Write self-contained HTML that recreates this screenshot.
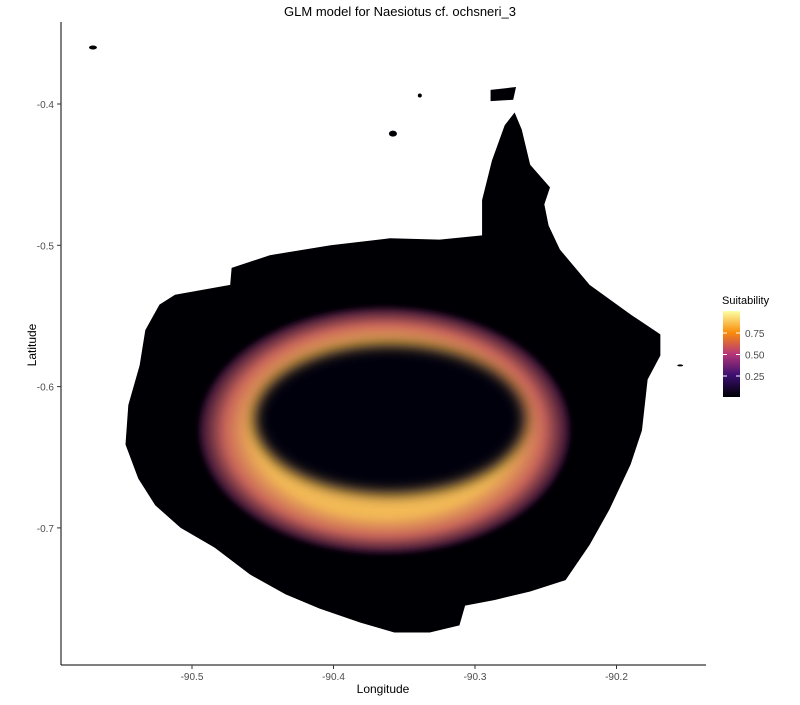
<!DOCTYPE html>
<html><head><meta charset="utf-8"><style>
body{margin:0;background:#fff;font-family:"Liberation Sans",sans-serif}
svg text{font-family:"Liberation Sans",sans-serif}
</style></head><body>
<svg id="chart" width="800" height="700" xmlns="http://www.w3.org/2000/svg">
<defs>
<radialGradient id="ringg" cx="0.5" cy="0.5" r="0.5">
<stop offset="0" stop-color="#f5c060"/><stop offset="0.7" stop-color="#f2b856"/>
<stop offset="0.86" stop-color="#c8645a"/><stop offset="1" stop-color="#2a0a30"/>
</radialGradient>
<linearGradient id="legg" x1="0" y1="1" x2="0" y2="0">
<stop offset="0" stop-color="#000004"/><stop offset="0.25" stop-color="#3b0f70"/>
<stop offset="0.5" stop-color="#b5367a"/><stop offset="0.75" stop-color="#f98c0a"/>
<stop offset="1" stop-color="#fcffa4"/></linearGradient>
<filter id="blur"><feGaussianBlur stdDeviation="7"/></filter>
<filter id="blur2"><feGaussianBlur stdDeviation="3"/></filter>
</defs>
<text x="400" y="16" text-anchor="middle" font-size="13" fill="#000">GLM model for Naesiotus cf. ochsneri_3</text>
<g id="plot"></g>
<line x1="61" y1="22" x2="61" y2="665" stroke="#000" stroke-width="1"/>
<line x1="61" y1="665" x2="706" y2="665" stroke="#000" stroke-width="1"/>
<g id="xt"></g><g id="yt"></g>
<text x="383" y="693" text-anchor="middle" font-size="12">Longitude</text>
<text transform="translate(36,345) rotate(-90)" text-anchor="middle" font-size="12">Latitude</text>
<g>
<text x="722" y="304" font-size="11">Suitability</text>
<rect x="723" y="311" width="17" height="86" fill="url(#legg)"/>
<g id="legt"></g>
</g>
</svg>
<script>
const NS="http://www.w3.org/2000/svg";
const xTicks=[-90.5,-90.4,-90.3,-90.2];
const xTickLabels=["-90.5","-90.4","-90.3","-90.2"];
const yTicks=[-0.4,-0.5,-0.6,-0.7];
const yTickLabels=["-0.4","-0.5","-0.6","-0.7"];
const legendValues=[0.25,0.5,0.75];
const legendLabels=["0.25","0.50","0.75"];
const islandLon=[-90.512,-90.473,-90.472,-90.445,-90.402,-90.360,-90.325,-90.295,-90.295,-90.288,-90.279,-90.272,-90.267,-90.261,-90.247,-90.251,-90.248,-90.240,-90.219,-90.190,-90.169,-90.169,-90.178,-90.182,-90.190,-90.205,-90.219,-90.236,-90.261,-90.286,-90.307,-90.311,-90.332,-90.357,-90.381,-90.410,-90.434,-90.459,-90.484,-90.508,-90.526,-90.538,-90.547,-90.545,-90.537,-90.533,-90.523];
const islandLat=[-0.535,-0.528,-0.516,-0.507,-0.500,-0.495,-0.496,-0.493,-0.468,-0.440,-0.415,-0.406,-0.418,-0.443,-0.459,-0.471,-0.486,-0.503,-0.528,-0.549,-0.563,-0.578,-0.595,-0.631,-0.655,-0.687,-0.712,-0.737,-0.745,-0.751,-0.755,-0.769,-0.774,-0.774,-0.767,-0.757,-0.747,-0.733,-0.714,-0.700,-0.684,-0.665,-0.641,-0.613,-0.585,-0.560,-0.542];
const isletLon=[-90.289,-90.271,-90.273,-90.289];
const isletLat=[-0.390,-0.388,-0.397,-0.398];
const ringCenter=[-90.364,-0.631], ringRadii=[0.131,0.087];
const coreCenter=[-90.360,-0.623], coreRadii=[0.096,0.053];
const X=v=>192+(v+90.5)*1415, Y=v=>104-(v+0.4)*1413;
const LegY=v=>397.5-v*86;
const plot=document.getElementById('plot');
function mk(tag,attrs,parent){const e=document.createElementNS(NS,tag);for(const k in attrs)e.setAttribute(k,attrs[k]);parent.appendChild(e);return e;}
let p=mk('polygon',{points:islandLon.map((l,i)=>X(l)+','+Y(islandLat[i])).join(' '),fill:'#000004'},plot);


let q=mk('polygon',{points:isletLon.map((l,i)=>X(l)+','+Y(isletLat[i])).join(' '),fill:'#000004'},plot);


[[-90.57,-0.36,4,2],[-90.358,-0.421,4,3],[-90.339,-0.394,2,2],[-90.155,-0.585,3,1]].forEach(d=>{
 let r=mk('ellipse',{cx:X(d[0]),cy:Y(d[1]),rx:d[2],ry:d[3],fill:'#000004'},plot);
 
 
});
let ring=mk('ellipse',{cx:X(ringCenter[0]),cy:Y(ringCenter[1]),rx:ringRadii[0]*1415,ry:ringRadii[1]*1413,fill:'url(#ringg)',filter:'url(#blur2)'},plot);


let core=mk('ellipse',{cx:X(coreCenter[0]),cy:Y(coreCenter[1]),rx:coreRadii[0]*1415,ry:coreRadii[1]*1413,fill:'#05020a',filter:'url(#blur)'},plot);


const xt=document.getElementById('xt');
xTicks.forEach((v,i)=>{
 let l=mk('line',{x1:X(v),x2:X(v),y1:665,y2:669,stroke:'#333'},xt);
 
 
 let t=mk('text',{x:X(v),y:680,'text-anchor':'middle','font-size':'10',fill:'#4d4d4d'},xt);t.textContent=xTickLabels[i];
 
 
});
const yt=document.getElementById('yt');
yTicks.forEach((v,i)=>{
 let l=mk('line',{x1:57,x2:61,y1:Y(v),y2:Y(v),stroke:'#333'},yt);
 
 
 let t=mk('text',{x:54,y:Y(v)+4,'text-anchor':'end','font-size':'10',fill:'#4d4d4d'},yt);t.textContent=yTickLabels[i];
 
 
});
const legt=document.getElementById('legt');
legendValues.forEach((v,i)=>{
 const y=LegY(v);
 let a=mk('line',{x1:723,x2:727,y1:y,y2:y,stroke:'#fff'},legt);
 
 
 let b=mk('line',{x1:736,x2:740,y1:y,y2:y,stroke:'#fff'},legt);
 
 
 let t=mk('text',{x:745,y:y+4,'font-size':'10',fill:'#4d4d4d'},legt);t.textContent=legendLabels[i];
 
 
});
</script>
</body></html>
